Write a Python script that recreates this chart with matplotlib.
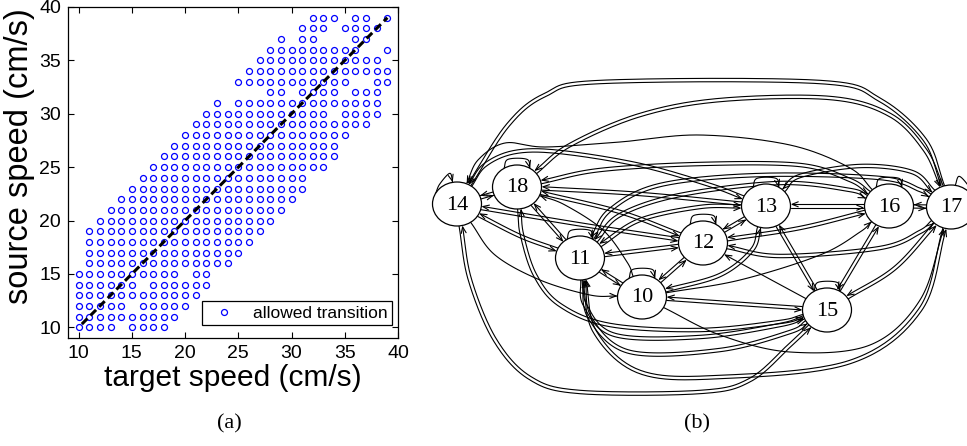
import numpy as np
import matplotlib
matplotlib.use("Agg")
import matplotlib.pyplot as plt
from matplotlib.patches import Ellipse, FancyArrowPatch, ArrowStyle
from matplotlib.path import Path

plt.rcParams["font.family"] = ["Liberation Sans", "DejaVu Sans"]

# ---------------------------------------------------------------- data (a)
source_speeds = [10, 11, 12, 13, 14, 15, 16, 17, 18, 19, 20, 21, 22, 23, 24,
                 25, 26, 27, 28, 29, 30, 31, 32, 33, 34, 35, 36, 37, 38, 39]
allowed_targets = [
    [10, 11, 12, 13, 15, 16, 17, 18],
    [10, 11, 12, 13, 14, 15, 16, 17, 18, 19],
    [10, 11, 12, 13, 14, 16, 17, 18, 19, 20],
    [10, 11, 12, 13, 14, 15, 16, 17, 18, 19, 20, 21],
    [10, 11, 12, 13, 14, 15, 17, 18, 19, 20, 21, 22],
    [10, 11, 12, 13, 14, 15, 16, 17, 18, 19, 21, 22],
    [11, 12, 13, 14, 15, 16, 17, 18, 19, 20, 21, 22, 23, 24],
    [11, 12, 13, 14, 15, 16, 17, 18, 19, 20, 21, 22, 23, 24, 25],
    [11, 12, 13, 14, 15, 16, 17, 18, 19, 20, 21, 22, 23, 24, 25, 26],
    [11, 12, 13, 14, 15, 16, 17, 18, 19, 20, 21, 22, 23, 24, 25, 26, 27],
    [12, 13, 14, 15, 16, 17, 18, 19, 20, 21, 22, 23, 24, 25, 26, 27, 28],
    [13, 14, 15, 16, 17, 18, 19, 20, 21, 22, 23, 24, 25, 26, 27, 28, 29],
    [14, 15, 16, 17, 18, 19, 20, 21, 22, 23, 24, 25, 26, 27, 28, 29, 30],
    [15, 16, 17, 18, 19, 20, 21, 22, 23, 24, 25, 26, 27, 28, 29, 30, 31],
    [16, 17, 18, 19, 20, 21, 22, 23, 24, 25, 26, 27, 28, 29, 30, 31],
    [17, 18, 19, 20, 21, 22, 23, 24, 25, 26, 27, 28, 29, 30, 31, 32, 33],
    [18, 19, 20, 21, 22, 23, 24, 25, 26, 27, 28, 29, 30, 31, 32, 33, 34],
    [19, 20, 21, 22, 23, 24, 25, 26, 27, 28, 29, 30, 31, 32, 33, 34],
    [20, 21, 22, 23, 24, 25, 26, 27, 28, 29, 30, 31, 32, 33, 34, 35],
    [21, 22, 23, 24, 25, 26, 27, 28, 29, 30, 31, 32, 33, 34, 35, 36, 37],
    [22, 23, 24, 25, 26, 27, 28, 29, 30, 31, 32, 33, 35, 36, 37, 38],
    [23, 25, 26, 27, 28, 29, 30, 31, 32, 33, 34, 35, 36, 37, 38],
    [28, 29, 31, 32, 33, 34, 36, 37, 38],
    [25, 26, 27, 28, 29, 30, 31, 32, 33, 34, 35, 38, 39],
    [26, 27, 28, 29, 30, 31, 32, 33, 34, 35, 36, 37, 38, 39],
    [27, 28, 29, 30, 31, 32, 33, 34, 35, 36, 37, 38],
    [28, 29, 30, 31, 32, 33, 34, 35, 36, 39],
    [29, 31, 32, 36, 37],
    [31, 32, 33, 35, 36, 37, 38],
    [32, 33, 34, 36, 37, 39],
]
diagonal_speeds = [10.3, 39.0]
axis_ticks = [10, 15, 20, 25, 30, 35, 40]

# ---------------------------------------------------------------- data (b)
states = [10, 11, 12, 13, 14, 15, 16, 17, 18]
# (u, v, kind): "both" = u->v and v->u, "to_v" = u->v, "to_u" = v->u
transitions = [
    (14, 17, "both"), (18, 17, "both"), (14, 16, "to_u"), (14, 13, "both"),
    (18, 16, "both"), (18, 13, "both"), (18, 12, "both"), (18, 11, "both"),
    (18, 15, "both"), (18, 10, "to_u"), (14, 18, "both"), (14, 12, "both"),
    (14, 11, "both"), (14, 10, "to_v"), (14, 15, "both"), (13, 16, "both"),
    (16, 17, "both"), (12, 13, "both"), (13, 15, "both"), (16, 15, "both"),
    (15, 17, "both"), (12, 16, "both"), (12, 17, "both"), (12, 15, "to_u"),
    (11, 12, "both"), (10, 12, "both"), (11, 10, "both"), (10, 15, "both"),
    (10, 13, "both"), (10, 16, "to_v"), (10, 17, "to_v"), (11, 13, "both"),
    (11, 16, "both"), (11, 17, "both"), (11, 15, "both"), (11, 15, "both"),
    (11, 17, "both"), (13, 17, "both"),
]

# ---------------------------------------------------------------- layout of (b), pixel units
node_xy = {14: (457, 204), 18: (517, 187), 13: (766, 206), 16: (889, 206),
           17: (951, 207), 12: (703, 243), 11: (580, 258), 10: (642, 297),
           15: (827, 310)}
NODE_W, NODE_H = 49, 44
edge_routes = [
    [(508, 125), (545, 95), (600, 82), (820, 82), (880, 100), (925, 140)],
    [(570, 145), (640, 115), (720, 100), (830, 98), (890, 115), (925, 150)],
    [(478, 160), (505, 143), (545, 147), (620, 142), (700, 135), (790, 145), (850, 168)],
    [(485, 165), (515, 152), (560, 152), (640, 165), (710, 185)],
    [(600, 170), (700, 164), (800, 165), (850, 180)],
    [(640, 194)],
    [(620, 212)],
    [],
    [(522, 235), (535, 275), (560, 305), (610, 325), (700, 330), (780, 322)],
    [(565, 205), (603, 230), (627, 262)],
    [],
    [(590, 226)],
    [(520, 236)],
    [(495, 255), (540, 280), (590, 295)],
    [(470, 280), (495, 340), (530, 378), (580, 392), (700, 392), (750, 380), (790, 345)],
    [],
    [],
    [],
    [],
    [],
    [(895, 268)],
    [(800, 228)],
    [(780, 256), (880, 248), (920, 232)],
    [],
    [],
    [],
    [],
    [],
    [(720, 275), (752, 250)],
    [(740, 280), (820, 255), (860, 232)],
    [(720, 335), (790, 352), (870, 345), (920, 300)],
    [(640, 220), (700, 207)],
    [(620, 215), (680, 195), (780, 183), (850, 190)],
    [(610, 210), (660, 185), (760, 175), (880, 178), (920, 190)],
    [(585, 305), (615, 335), (700, 337), (780, 325)],
    [(590, 318), (630, 352), (720, 350), (790, 332)],
    [(595, 332), (640, 372), (720, 377), (850, 362), (920, 310)],
    [(800, 176), (860, 166), (912, 172)],
]
loop_angles = {14: (150, 100), 17: (80, 30)}


def rim(c, toward):
    c = np.asarray(c, float)
    d = np.asarray(toward, float) - c
    t = 1.0 / np.sqrt((d[0] / (NODE_W / 2)) ** 2 + (d[1] / (NODE_H / 2)) ** 2)
    return c + t * d


def spline(pts, n=24):
    p = np.asarray(pts, float)
    if len(p) == 2:
        return np.linspace(p[0], p[1], n)
    p = np.vstack([2 * p[0] - p[1], p, 2 * p[-1] - p[-2]])
    t = np.linspace(0, 1, n, endpoint=False)[:, None]
    out = []
    for i in range(1, len(p) - 2):
        p0, p1, p2, p3 = p[i - 1], p[i], p[i + 1], p[i + 2]
        out.append(0.5 * (2 * p1 + (-p0 + p2) * t
                          + (2 * p0 - 5 * p1 + 4 * p2 - p3) * t ** 2
                          + (-p0 + 3 * p1 - 3 * p2 + p3) * t ** 3))
    out.append(p[-2][None])
    return np.vstack(out)


def offset(curve, s):
    tan = np.gradient(curve, axis=0)
    tan /= np.linalg.norm(tan, axis=1)[:, None]
    nrm = np.column_stack([-tan[:, 1], tan[:, 0]])
    return curve + s * nrm


head = ArrowStyle("->", head_length=4.5, head_width=1.8)


def arrow(ax, curve):
    ax.add_patch(FancyArrowPatch(path=Path(curve), arrowstyle=head,
                                 mutation_scale=1, lw=0.8, color="black",
                                 shrinkA=0, shrinkB=0, zorder=2))


# ---------------------------------------------------------------- figure
fig = plt.figure(figsize=(9.67, 4.46), dpi=100)

# panel (a)
ax = fig.add_axes([68 / 967, (446 - 338) / 446, 330 / 967, 331 / 446])
xs = [t for s, row in zip(source_speeds, allowed_targets) for t in row]
ys = [s for s, row in zip(source_speeds, allowed_targets) for t in row]
ax.plot(diagonal_speeds, diagonal_speeds, color="black", lw=2.2,
        ls=(0, (2.6, 1.4)), zorder=3)
ax.plot(xs, ys, "o", mfc="none", mec=(0, 0, 1), ms=4.3, mew=0.9,
        label="allowed transition", zorder=2)
ax.set_xlim(9, 40)
ax.set_ylim(9, 40)
ax.set_xticks(axis_ticks)
ax.set_yticks(axis_ticks)
ax.tick_params(direction="in", top=True, right=True, length=4, width=0.8,
               labelsize=14, pad=5)
for sp in ax.spines.values():
    sp.set_linewidth(0.9)
ax.set_xlabel("target speed (cm/s)", fontsize=21.5)
ax.set_ylabel("source speed (cm/s)", fontsize=23.5)
ax.xaxis.set_label_coords(0.5, -0.08)
ax.yaxis.set_label_coords(-0.1, 0.55)
leg = ax.legend(loc="lower right", bbox_to_anchor=(0.982, 0.039),
                borderaxespad=0, fontsize=12.5, fancybox=False,
                framealpha=1, edgecolor="black", handlelength=2.0,
                handletextpad=0.7, borderpad=0.25)
leg.get_frame().set_linewidth(0.9)

# panel (b)
axg = fig.add_axes([430 / 967, 0, 537 / 967, 1])
axg.set_xlim(430, 967)
axg.set_ylim(446, 0)
axg.axis("off")

for (u, v, kind), route in zip(transitions, edge_routes):
    pu, pv = node_xy[u], node_xy[v]
    first = route[0] if route else pv
    last = route[-1] if route else pu
    centre = spline([rim(pu, first)] + list(route) + [rim(pv, last)])
    if kind == "both":
        arrow(axg, offset(centre, 1.7))
        arrow(axg, offset(centre, -1.7)[::-1])
    elif kind == "to_v":
        arrow(axg, centre)
    else:
        arrow(axg, centre[::-1])

for s in states:
    cx, cy = node_xy[s]
    a0, a1 = loop_angles.get(s, (122, 58))
    r0, r1 = np.radians(a0), np.radians(a1)
    p0 = (cx + NODE_W / 2 * np.cos(r0), cy - NODE_H / 2 * np.sin(r0))
    p1 = (cx + NODE_W / 2 * np.cos(r1), cy - NODE_H / 2 * np.sin(r1))
    q0 = (p0[0] + 4, p0[1] - 9)
    q1 = (p1[0] - 3, p1[1] - 9)
    arrow(axg, spline([p0, q0, q1, p1], n=12))
    axg.add_patch(Ellipse((cx, cy), NODE_W, NODE_H, fc="white", ec="black",
                          lw=0.9, zorder=3))
    axg.text(cx, cy + 1, str(s), ha="center", va="center", fontsize=16,
             family=["Liberation Serif", "DejaVu Serif"], zorder=4)

fig.text(229 / 967, 1 - 424 / 446, "(a)", ha="center", va="center",
         fontsize=16, family=["Liberation Serif", "DejaVu Serif"])
fig.text(697 / 967, 1 - 424 / 446, "(b)", ha="center", va="center",
         fontsize=16, family=["Liberation Serif", "DejaVu Serif"])

fig.savefig("out.png", dpi=100)
